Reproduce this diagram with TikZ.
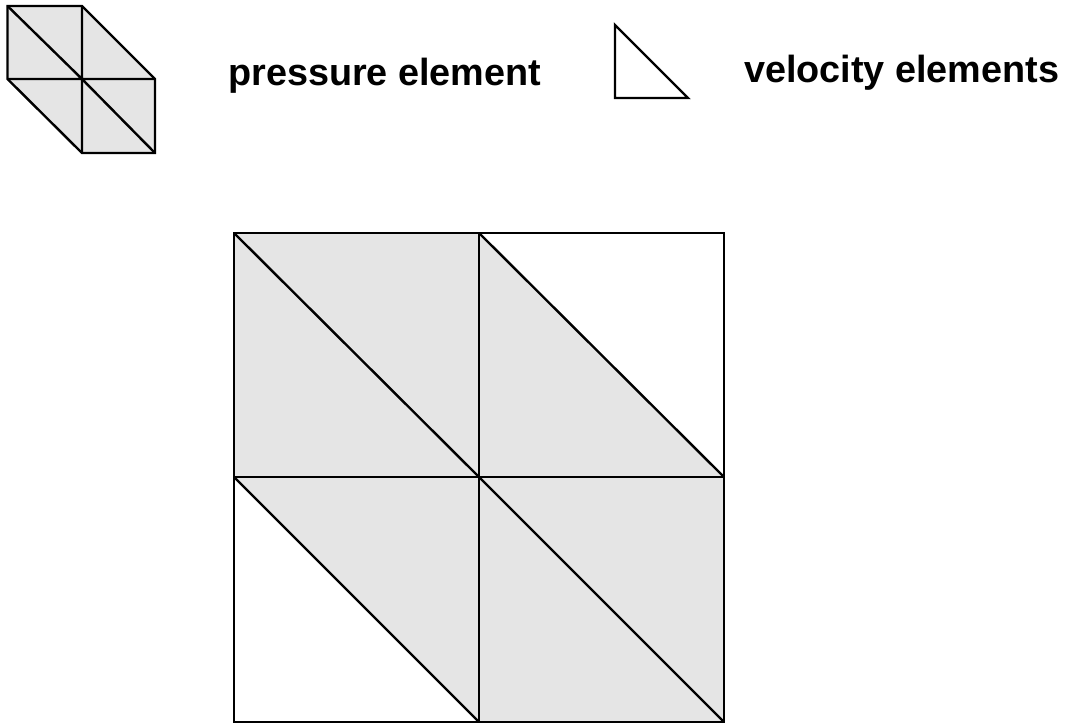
\documentclass[tikz,border=0pt]{standalone}
\usepackage{fontspec}
\setmainfont{Liberation Sans}
\usepackage{tikz}
\usetikzlibrary{positioning}
\definecolor{elemgray}{HTML}{E5E5E5}

\begin{document}
\begin{tikzpicture}[x=1pt, y=-1pt, line width=2.4pt]
        \tikzstyle{mesh}=[draw=black, fill=elemgray]
        \tikzstyle{label}=[inner sep=0pt, anchor=base west, font=\fontsize{37.8}{44}\selectfont\bfseries]
        \useasboundingbox (0,0) rectangle (1065,724);
        % legend: pressure element (patch of four triangles)
        \coordinate (p1) at (7.5,6);
        \coordinate (p2) at (82,6);
        \coordinate (p3) at (155,79);
        \coordinate (p4) at (155,153);
        \coordinate (p5) at (82,153);
        \coordinate (p6) at (7.5,79);
        \coordinate (pc) at (82,79);
        \draw[mesh] (p1) -- (p2) -- (p3) -- (p4) -- (p5) -- (p6) -- cycle;
        \draw (p6) -- (p3) (p2) -- (p5) (p1) -- (pc) -- (p4);
        \node[label] (pressure) at (227,85) {pressure element};
        % legend: velocity element
        \coordinate (v1) at (615,25);
        \coordinate (v2) at (615,98);
        \coordinate (v3) at (688,98);
        \draw (v1) -- (v2) -- (v3) -- cycle;
        \node[label] (velocity) at (743,82) {velocity elements};
        % mesh
        \coordinate (a1) at (234,233);
        \coordinate (a2) at (479,233);
        \coordinate (a3) at (724,233);
        \coordinate (b1) at (234,477);
        \coordinate (b2) at (479,477);
        \coordinate (b3) at (724,477);
        \coordinate (c1) at (234,722);
        \coordinate (c2) at (479,722);
        \coordinate (c3) at (724,722);
        \fill[elemgray] (a1) rectangle (b2);
        \fill[elemgray] (a2) -- (b2) -- (b3) -- cycle;
        \fill[elemgray] (b1) -- (b2) -- (c2) -- cycle;
        \fill[elemgray] (b2) rectangle (c3);
        \draw (a1) rectangle (c3);
        \draw (a2) -- (c2) (b1) -- (b3);
        \draw (a1) -- (b2) -- (c3) (a2) -- (b3) (b1) -- (c2);
      \end{tikzpicture}
\end{document}
